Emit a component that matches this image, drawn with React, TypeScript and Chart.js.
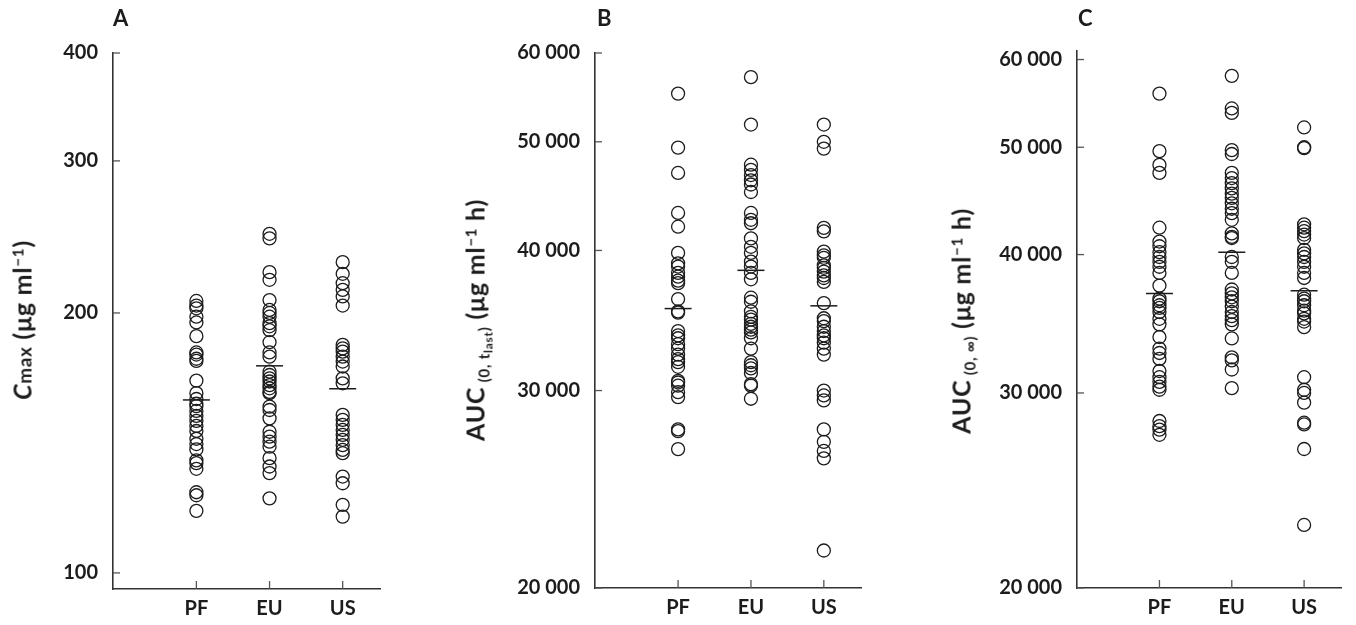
import React, { useEffect, useRef } from 'react';
import { Chart, registerables } from 'chart.js';

Chart.register(...registerables);

// ---------- data ----------
const categories = ['PF', 'EU', 'US'];

const cmaxTicks = [100, 200, 300, 400];
const aucTicks = [20000, 30000, 40000, 50000, 60000];

const cmaxPF = [206.5, 204, 202.5, 198, 195, 188, 180, 179, 177, 176, 167, 161.5, 159, 157, 156, 154, 152, 150, 148, 146, 143, 141, 139, 135, 134, 132, 124, 123, 118];
const cmaxEU = [247, 244, 223, 218.5, 207, 201.6, 200, 198, 194.6, 193, 191, 185, 180, 178, 171, 169.5, 168, 166.6, 165, 163.6, 162, 161.5, 155.8, 154.4, 151, 145.7, 143.8, 141.9, 140, 135.8, 132.8, 130.5, 122];
const cmaxUS = [229, 222, 216.5, 212.7, 209, 204, 183.7, 182, 180.4, 178, 175.7, 173.4, 168, 165.8, 152.4, 150.4, 148.4, 146.4, 144.5, 142.6, 140.6, 138.8, 137.6, 129.3, 127, 119.9, 116.2];
const cmaxMean = [158.6, 173.7, 163.4];

const aucLastPF = [55200, 49400, 46900, 43200, 42000, 39800, 38950, 38700, 38200, 37900, 37600, 37400, 36200, 35300, 35200, 33900, 33600, 33400, 33000, 32700, 32300, 32000, 31800, 31500, 30600, 30500, 30300, 29900, 29600, 27700, 27600, 26600];
const aucLastEU = [57100, 51800, 47700, 47200, 46700, 46200, 45800, 45100, 43200, 42600, 42300, 41000, 40300, 39800, 39100, 38700, 38200, 37700, 36300, 36000, 35300, 34900, 34700, 34400, 34200, 34000, 33800, 33400, 32700, 31800, 31600, 31400, 31100, 30400, 30300, 29500];
const aucLastUS = [51800, 50000, 49300, 41900, 41600, 39900, 39600, 39400, 38800, 38600, 38300, 38000, 37800, 37500, 35900, 34800, 34600, 34200, 33900, 33600, 33400, 33100, 32700, 32300, 30000, 29700, 29400, 27700, 27000, 26500, 26100, 21600];
const aucLastMean = [35500, 38400, 35700];

const aucInfPF = [55900, 49600, 48200, 47400, 42300, 41100, 40700, 40200, 39800, 39400, 39000, 38500, 37500, 36500, 36300, 36000, 35800, 35500, 35000, 34600, 33700, 32900, 32600, 32200, 31400, 31000, 30700, 30400, 30200, 28300, 28000, 27800, 27500];
const aucInfEU = [58000, 54200, 53700, 49700, 49300, 47400, 46900, 46400, 45900, 45400, 45000, 44500, 44000, 43600, 43000, 41800, 41500, 41400, 39800, 39400, 38500, 37200, 36900, 36600, 36300, 35900, 35500, 35200, 34900, 34600, 33600, 32300, 32100, 31500, 30300];
const aucInfUS = [52100, 50000, 49900, 42600, 42300, 42000, 41700, 41400, 40400, 40100, 39800, 39400, 39000, 38500, 38100, 36800, 36500, 36300, 36000, 35600, 35400, 35000, 34800, 34400, 31000, 30200, 30000, 29400, 28200, 28100, 26700, 22800];
const aucInfMean = [36900, 40200, 37100];

// ---------- style ----------
const INK = '#1c1c1c';
const AXIS = '#333333';
const FONT = 'Lato, "Open Sans", "DejaVu Sans", sans-serif';
const H = 625;

function fmt(v: number): string {
  const s = String(Math.round(v));
  return v >= 10000 ? s.replace(/\B(?=(\d{3})+(?!\d))/g, ' ') : s;
}

const inwardTicks = {
  id: 'inwardTicks',
  afterDraw(chart: any) {
    const { ctx, chartArea } = chart;
    const xs = chart.scales.x;
    const ys = chart.scales.y;
    ctx.save();
    ctx.strokeStyle = '#555555';
    ctx.lineWidth = 1.3;
    ys.ticks.forEach((t: any) => {
      const py = ys.getPixelForValue(t.value);
      ctx.beginPath();
      ctx.moveTo(chartArea.left, py);
      ctx.lineTo(chartArea.left + 7, py);
      ctx.stroke();
    });
    xs.ticks.forEach((t: any) => {
      const px = xs.getPixelForValue(t.value);
      ctx.beginPath();
      ctx.moveTo(px, chartArea.bottom);
      ctx.lineTo(px, chartArea.bottom - 8);
      ctx.stroke();
    });
    ctx.restore();
  },
};

type PanelProps = {
  groups: number[][];
  means: number[];
  ticks: number[];
  yMin: number;
  yMax: number;
  left: number;
  width: number;
  axisLeft: number;
  top: number;
  bottom: number;
  padRight: number;
};

function Panel(p: PanelProps) {
  const ref = useRef<HTMLCanvasElement>(null);
  useEffect(() => {
    if (!ref.current) return;
    const datasets: any[] = p.groups.map((vals, gi) => ({
      data: vals.map((v) => ({ x: gi + 1, y: v })),
      pointStyle: 'circle',
      pointRadius: 6.5,
      pointHoverRadius: 6.5,
      pointBorderWidth: 1.3,
      pointBorderColor: INK,
      pointBackgroundColor: 'rgba(0,0,0,0)',
      showLine: false,
    }));
    datasets.push({
      data: p.means.map((v, gi) => ({ x: gi + 1, y: v })),
      pointStyle: 'line',
      pointRadius: 13.5,
      pointHoverRadius: 13.5,
      pointBorderWidth: 1.5,
      pointBorderColor: INK,
      showLine: false,
    });
    const chart = new Chart(ref.current, {
      type: 'scatter',
      data: { datasets },
      options: {
        animation: false,
        responsive: false,
        maintainAspectRatio: false,
        events: [],
        layout: { padding: { top: p.top, right: p.padRight, bottom: 0, left: 0 } },
        plugins: { legend: { display: false }, tooltip: { enabled: false } },
        scales: {
          x: {
            type: 'linear',
            min: -0.14,
            max: 3.51,
            bounds: 'data',
            afterBuildTicks: (s: any) => {
              s.ticks = categories.map((_, i) => ({ value: i + 1 }));
            },
            afterFit: (s: any) => {
              s.height = H - p.bottom;
            },
            grid: { display: false, drawTicks: false },
            border: { display: true, color: AXIS, width: 1.6 },
            ticks: {
              autoSkip: false,
              maxRotation: 0,
              padding: 8,
              color: INK,
              font: { family: FONT, size: 20, weight: 'bold' },
              callback: (v: any) => categories[Math.round(Number(v)) - 1] ?? '',
            },
          },
          y: {
            type: 'logarithmic',
            min: p.yMin,
            max: p.yMax,
            bounds: 'data',
            afterBuildTicks: (s: any) => {
              s.ticks = p.ticks.map((v) => ({ value: v }));
            },
            afterFit: (s: any) => {
              s.width = p.axisLeft;
            },
            grid: { display: false, drawTicks: false },
            border: { display: true, color: AXIS, width: 1.6 },
            ticks: {
              autoSkip: false,
              padding: 15,
              color: INK,
              font: { family: FONT, size: 20, weight: 'bold' },
              callback: (v: any) => fmt(Number(v)),
            },
          },
        },
      } as any,
      plugins: [inwardTicks],
    });
    return () => chart.destroy();
  }, []);
  return (
    <canvas
      ref={ref}
      width={p.width}
      height={H}
      style={{ position: 'absolute', left: p.left, top: 0, width: p.width, height: H }}
    />
  );
}

const titleBase: React.CSSProperties = {
  position: 'absolute',
  transform: 'translate(-50%, -50%) rotate(-90deg)',
  whiteSpace: 'nowrap',
  fontFamily: FONT,
  fontWeight: 700,
  fontSize: 25,
  letterSpacing: '0.03em',
  color: INK,
  lineHeight: 1,
};

const letterBase: React.CSSProperties = {
  position: 'absolute',
  top: 7,
  fontFamily: FONT,
  fontWeight: 700,
  fontSize: 22,
  color: INK,
  lineHeight: 1,
};

const sub: React.CSSProperties = { fontSize: '0.6em', position: 'relative', top: '0.3em' };
const subsub: React.CSSProperties = { fontSize: '0.8em', position: 'relative', top: '0.25em' };
const sup: React.CSSProperties = { fontSize: '0.6em', position: 'relative', top: '-0.55em' };

export default function App() {
  return (
    <div style={{ position: 'absolute', left: 0, top: 0, width: 1356, height: H, background: '#fff', overflow: 'hidden' }}>
      <Panel groups={[cmaxPF, cmaxEU, cmaxUS]} means={cmaxMean} ticks={cmaxTicks} yMin={95.8} yMax={400}
        left={0} width={395} axisLeft={113} top={53} bottom={589} padRight={8} />
      <Panel groups={[aucLastPF, aucLastEU, aucLastUS]} means={aucLastMean} ticks={aucTicks} yMin={20000} yMax={60000}
        left={450} width={426} axisLeft={145} top={53} bottom={588} padRight={8} />
      <Panel groups={[aucInfPF, aucInfEU, aucInfUS]} means={aucInfMean} ticks={aucTicks} yMin={20000} yMax={61100}
        left={906} width={450} axisLeft={171} top={50.8} bottom={588} padRight={6} />

      <div style={{ ...letterBase, left: 113 }}>A</div>
      <div style={{ ...letterBase, left: 597 }}>B</div>
      <div style={{ ...letterBase, left: 1078 }}>C</div>

      <div style={{ ...titleBase, left: 22, top: 320 }}>
        <span style={{ fontStyle: 'italic' }}>C</span><span style={{ fontSize: '0.75em' }}>max</span> (μg ml<span style={sup}>−1</span>)
      </div>
      <div style={{ ...titleBase, left: 475, top: 320 }}>
        AUC<span style={sub}> (0, t<span style={subsub}>last</span>)</span> (μg ml<span style={sup}>−1</span> h)
      </div>
      <div style={{ ...titleBase, left: 961, top: 321 }}>
        AUC<span style={sub}> (0, ∞)</span> (μg ml<span style={sup}>−1</span> h)
      </div>
    </div>
  );
}
